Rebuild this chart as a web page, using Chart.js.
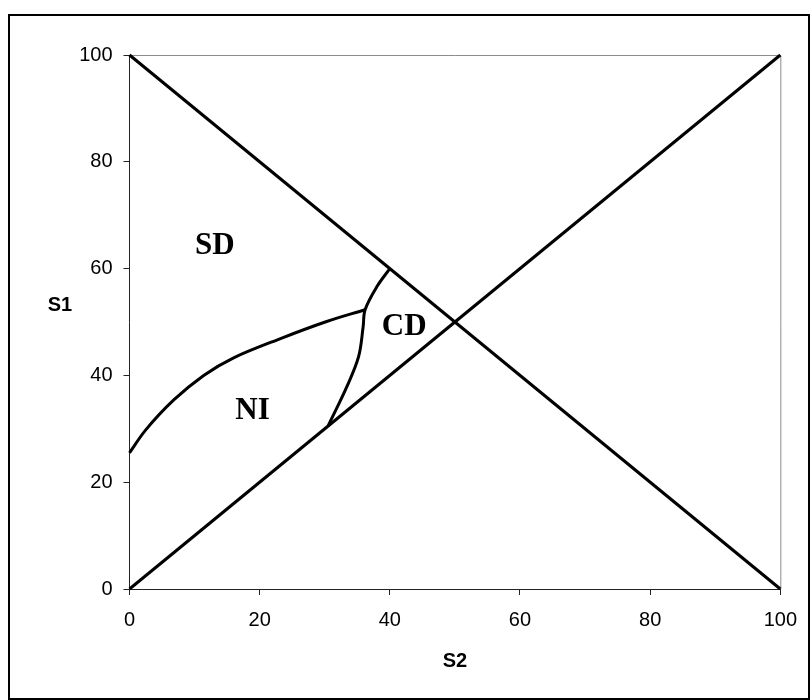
<!DOCTYPE html>
<html>
<head>
<meta charset="utf-8">
<script src="https://cdn.jsdelivr.net/npm/chart.js@4/dist/chart.umd.min.js"></script>
<style>
  html, body { margin: 0; padding: 0; background: #fff; }
  #wrap { position: relative; width: 810px; height: 700px; }
  #frame { position: absolute; left: 8px; top: 14px; width: 798px; height: 682px; border: 2px solid #000; pointer-events: none; }
</style>
</head>
<body>
<div id="wrap">
  <canvas id="phaseChart" width="810" height="700"></canvas>
  <div id="frame"></div>
</div>
<script>
// axis ticks (S2 horizontal, S1 vertical)
const s2Ticks = [0, 20, 40, 60, 80, 100]
const s1Ticks = [0, 20, 40, 60, 80, 100]

// the two diagonals
const falling = { s2: [0, 100], s1: [100, 0] }
const rising = { s2: [0, 100], s1: [0, 100] }

// NI / SD boundary
const niTopS2 = [0, 2.5, 6.8, 11.4, 16.0, 23.2, 30.3, 36.2]
const niTopS1 = [25.5, 29.8, 35.4, 40.0, 43.3, 46.9, 50.1, 52.3]

// NI / CD boundary, continuing up to the falling diagonal
const cdEdgeS2 = [30.5, 33.4, 35.2, 35.9, 36.2, 38.0, 40.0]
const cdEdgeS1 = [30.5, 37.9, 43.5, 49.1, 52.3, 56.6, 60.0]

// region names and where they sit
const regionNames = ['SD', 'CD', 'NI']
const regionS2 = [13.1, 42.2, 18.9]
const regionS1 = [64.2, 49.0, 33.3]

function toPoints(xs, ys) {
  return xs.map((x, i) => ({ x: x, y: ys[i] }))
}

function curve(xs, ys, tension) {
  return {
    data: toPoints(xs, ys),
    showLine: true,
    borderColor: '#000',
    borderWidth: 3,
    pointRadius: 0,
    tension: tension,
    clip: false
  }
}

// gray top/right edge of the plot, S1 title and the region names
const decorations = {
  id: 'decorations',
  beforeDatasetsDraw(chart) {
    const { ctx, chartArea } = chart
    ctx.save()
    ctx.strokeStyle = '#8c8c8c'
    ctx.lineWidth = 1
    ctx.beginPath()
    ctx.moveTo(chartArea.left, chartArea.top + 0.5)
    ctx.lineTo(chartArea.right + 0.5, chartArea.top + 0.5)
    ctx.lineTo(chartArea.right + 0.5, chartArea.bottom)
    ctx.stroke()
    ctx.restore()
  },
  afterDraw(chart) {
    const { ctx, scales } = chart
    ctx.save()
    ctx.fillStyle = '#000'
    ctx.textAlign = 'center'
    ctx.textBaseline = 'middle'
    ctx.font = 'bold 20px "Liberation Sans", Arial, sans-serif'
    ctx.fillText('S1', 60, 305)
    ctx.font = 'bold 31px "Liberation Serif", "Times New Roman", serif'
    regionNames.forEach((name, i) => {
      ctx.fillText(name, scales.x.getPixelForValue(regionS2[i]), scales.y.getPixelForValue(regionS1[i]))
    })
    ctx.restore()
  }
}

Chart.defaults.font.family = '"Liberation Sans", Arial, sans-serif'
Chart.defaults.font.size = 20
Chart.defaults.color = '#000'

const config = {
  type: 'scatter',
  data: {
    datasets: [
      curve(falling.s2, falling.s1, 0),
      curve(rising.s2, rising.s1, 0),
      curve(niTopS2, niTopS1, 0.35),
      curve(cdEdgeS2, cdEdgeS1, 0.35)
    ]
  },
  options: {
    responsive: false,
    animation: false,
    layout: { padding: { left: 0, top: 55, right: 28.5, bottom: 0 } },
    plugins: { legend: { display: false }, tooltip: { enabled: false } },
    scales: {
      x: {
        type: 'linear',
        min: s2Ticks[0],
        max: s2Ticks[s2Ticks.length - 1],
        afterBuildTicks(scale) { scale.ticks = s2Ticks.map(v => ({ value: v })) },
        ticks: { padding: 13, maxRotation: 0 },
        grid: { drawOnChartArea: false, drawTicks: true, tickLength: 6, color: '#222' },
        border: { display: true, color: '#222', width: 1 },
        title: { display: true, text: 'S2', font: { weight: 'bold', size: 20 }, padding: { top: 0, bottom: 27 } },
        afterFit(scale) { scale.height = 111 }
      },
      y: {
        type: 'linear',
        min: s1Ticks[0],
        max: s1Ticks[s1Ticks.length - 1],
        afterBuildTicks(scale) { scale.ticks = s1Ticks.map(v => ({ value: v })) },
        ticks: { padding: 11 },
        grid: { drawOnChartArea: false, drawTicks: true, tickLength: 6, color: '#222' },
        border: { display: true, color: '#222', width: 1 },
        afterFit(scale) { scale.width = 129.5 }
      }
    }
  },
  plugins: [decorations]
}

new Chart(document.getElementById('phaseChart'), config)
</script>
</body>
</html>
